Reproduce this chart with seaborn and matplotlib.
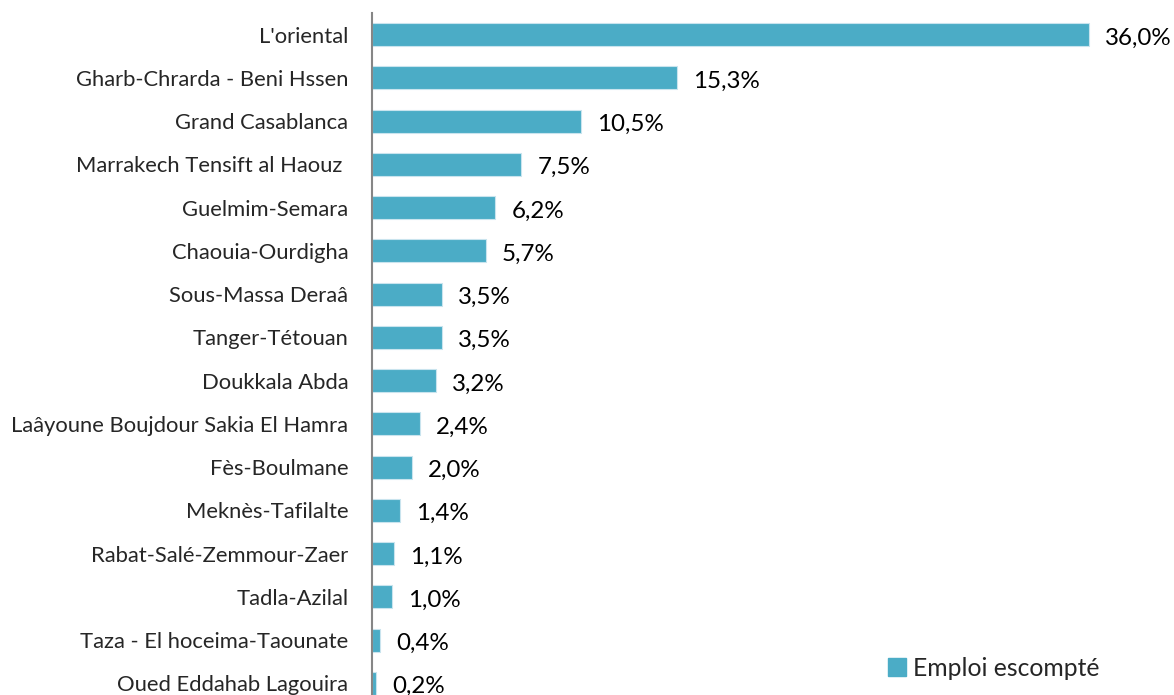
import matplotlib
matplotlib.use("Agg")
import matplotlib.pyplot as plt
import seaborn as sns
import pandas as pd

# Data
regions = [
    "L'oriental", "Gharb-Chrarda - Beni Hssen", "Grand Casablanca",
    "Marrakech Tensift al Haouz ", "Guelmim-Semara", "Chaouia-Ourdigha",
    "Sous-Massa Deraâ", "Tanger-Tétouan", "Doukkala Abda",
    "Laâyoune Boujdour Sakia El Hamra", "Fès-Boulmane", "Meknès-Tafilalte",
    "Rabat-Salé-Zemmour-Zaer", "Tadla-Azilal", "Taza - El hoceima-Taounate",
    "Oued Eddahab Lagouira",
]
emploi = [36.0, 15.3, 10.5, 7.5, 6.2, 5.7, 3.5, 3.5, 3.2, 2.4, 2.0, 1.4, 1.1, 1.0, 0.4, 0.2]
series_name = "Emploi escompté"

df = pd.DataFrame({"region": regions, "value": emploi})

sns.set_style("white")
plt.rcParams["font.family"] = ["Lato", "DejaVu Sans"]

W, H = 1174, 695
fig = plt.figure(figsize=(W / 100, H / 100), dpi=100)
# axes placed in pixel terms: left 372, right 1170, top 13, bottom 705
ax = fig.add_axes([372 / W, (H - 705) / H, (1170 - 372) / W, (705 - 13) / H])

color = "#4BACC6"
sns.barplot(data=df, x="value", y="region", orient="h", color=color,
            width=0.53, ax=ax, saturation=1, edgecolor="#c9e4ee", linewidth=0.8)

ax.set_xlim(0, 36.0 * (1170 - 372) / (1089 - 372))
ax.set_ylim(len(regions) - 0.5, -0.5)
ax.set_xlabel("")
ax.set_ylabel("")
ax.set_xticks([])
ax.tick_params(axis="y", length=0, pad=17, labelsize=15.8)
for s in ["top", "right", "bottom"]:
    ax.spines[s].set_visible(False)
ax.spines["left"].set_color("#868686")
ax.spines["left"].set_linewidth(1.5)

for i, v in enumerate(emploi):
    ax.text(v + 0.8, i + 0.08, f"{v:.1f}%".replace(".", ","), va="center",
            ha="left", fontsize=17.4, color="black")

# legend
handle = plt.Rectangle((0, 0), 1, 1, color=color)
fig.legend([handle], [series_name], loc="center left",
           bbox_to_anchor=(866 / W, 1 - 668 / H), frameon=False,
           fontsize=17.8, handlelength=0.7, handleheight=0.7, handletextpad=0.3)

fig.savefig("out.png", dpi=100)
